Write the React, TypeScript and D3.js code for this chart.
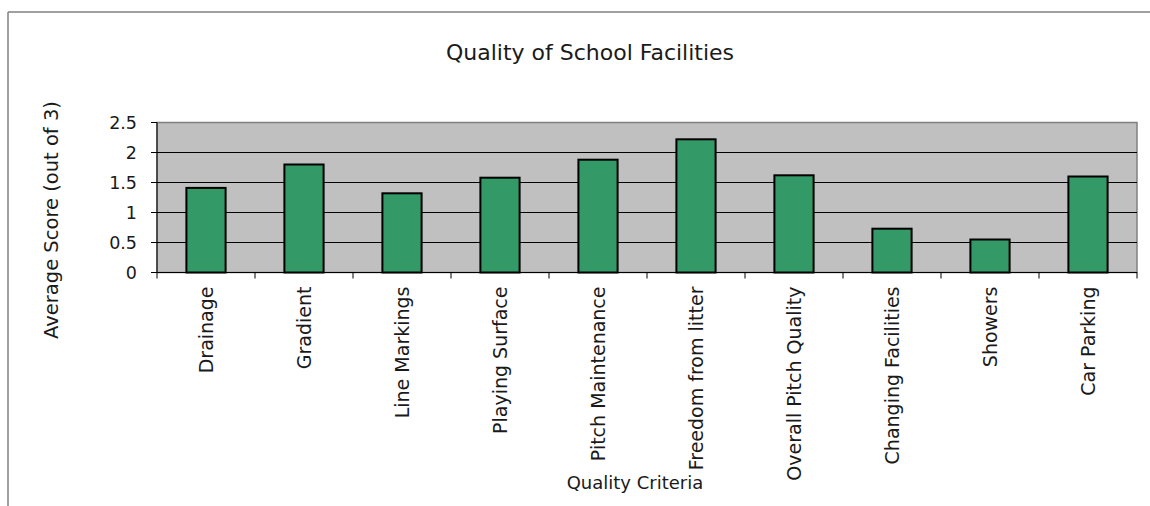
import React from "react";
import * as d3 from "d3";

const categories: string[] = [
  "Drainage",
  "Gradient",
  "Line Markings",
  "Playing Surface",
  "Pitch Maintenance",
  "Freedom from litter",
  "Overall Pitch Quality",
  "Changing Facilities",
  "Showers",
  "Car Parking",
];

const scores: number[] = [1.41, 1.8, 1.32, 1.58, 1.88, 2.22, 1.62, 0.73, 0.55, 1.6];

const yTicks: number[] = [0, 0.5, 1, 1.5, 2, 2.5];

const chartTitle = "Quality of School Facilities";
const yTitle = "Average Score (out of 3)";
const xTitle = "Quality Criteria";

const W = 1150;
const H = 506;
const plot = { left: 157, right: 1137, top: 122.5, bottom: 272.5 };
const FONT = "'DejaVu Sans', sans-serif";
const INK = "#1a1a1a";

export default function App() {
  const x = d3
    .scaleBand<string>()
    .domain(categories)
    .range([plot.left, plot.right])
    .paddingInner(0.6)
    .paddingOuter(0.3);
  const band = d3.scaleBand<string>().domain(categories).range([plot.left, plot.right]);
  const y = d3.scaleLinear().domain([0, 2.5]).range([plot.bottom, plot.top]);

  const tickEdges = d3.range(categories.length + 1).map((i) => plot.left + i * band.step());

  return (
    <svg
      width={W}
      height={H}
      style={{ position: "absolute", left: 0, top: 0, background: "#fff" }}
      fontFamily={FONT}
    >
      {/* chart frame (top and left edges visible) */}
      <line x1={8} y1={12} x2={W} y2={12} stroke="#808080" strokeWidth={1.5} />
      <line x1={8} y1={12} x2={8} y2={H} stroke="#808080" strokeWidth={1.5} />

      <text x={590} y={60} textAnchor="middle" fontSize={22} fill={INK}>
        {chartTitle}
      </text>

      {/* plot area */}
      <rect
        x={plot.left}
        y={plot.top}
        width={plot.right - plot.left}
        height={plot.bottom - plot.top}
        fill="#c0c0c0"
        stroke="#808080"
        strokeWidth={1.5}
      />

      {yTicks.slice(1, -1).map((t) => (
        <line key={t} x1={plot.left} x2={plot.right} y1={y(t)} y2={y(t)} stroke="#000" strokeWidth={1} />
      ))}

      {categories.map((c, i) => (
        <rect
          key={c}
          x={x(c)}
          y={y(scores[i])}
          width={x.bandwidth()}
          height={y(0) - y(scores[i])}
          fill="#339966"
          stroke="#000"
          strokeWidth={2}
        />
      ))}

      {/* axes */}
      <line x1={plot.left} x2={plot.left} y1={plot.top} y2={plot.bottom} stroke="#000" strokeWidth={1} />
      <line x1={plot.left} x2={plot.right} y1={plot.bottom} y2={plot.bottom} stroke="#000" strokeWidth={1} />
      {yTicks.map((t) => (
        <g key={t}>
          <line x1={plot.left - 6} x2={plot.left} y1={y(t)} y2={y(t)} stroke="#000" />
          <text x={plot.left - 20} y={y(t)} dy="0.36em" textAnchor="end" fontSize={17.5} fill={INK}>
            {t}
          </text>
        </g>
      ))}
      {tickEdges.map((tx, i) => (
        <line key={i} x1={tx} x2={tx} y1={plot.bottom} y2={plot.bottom + 6} stroke="#000" />
      ))}
      {categories.map((c) => {
        const cx = (band(c) as number) + band.bandwidth() / 2;
        return (
          <text
            key={c}
            transform={`translate(${cx},${plot.bottom + 14}) rotate(-90)`}
            dy="0.36em"
            textAnchor="end"
            fontSize={19}
            fill={INK}
          >
            {c}
          </text>
        );
      })}

      <text
        transform={`translate(51,220) rotate(-90)`}
        dy="0.36em"
        textAnchor="middle"
        fontSize={19.5}
        fill={INK}
      >
        {yTitle}
      </text>
      <text x={635} y={489} textAnchor="middle" fontSize={18} fill={INK}>
        {xTitle}
      </text>
    </svg>
  );
}
